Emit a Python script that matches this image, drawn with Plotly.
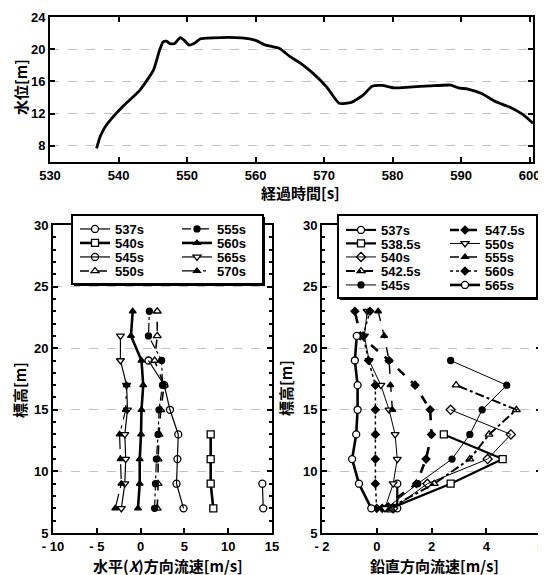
import plotly.graph_objects as go

# page is 546x575; the html body adds an 8px margin, so the figure is offset
PAGE_W, PAGE_H = 546, 575
OFF = 8
W, H = PAGE_W - OFF, PAGE_H - OFF

# ---------------- data: water level ----------------
time_s = [536.8, 537.3, 538.0, 538.8, 540.7, 543.1, 545.1, 546.0, 546.5, 547.0, 547.5, 548.2,
          549.0, 549.6, 550.3, 551.0, 552.0, 555.0, 558.0, 560.0, 561.5, 563.5, 565.0, 566.5,
          568.4, 570.4, 572.2, 574.0, 575.7, 577.0, 578.5, 580.2, 582.5, 585.5, 588.5, 589.6,
          591.0, 593.0, 595.0, 597.0, 599.0, 600.5]
level_m = [7.7, 9.1, 10.3, 11.2, 12.95, 14.9, 17.4, 19.9, 20.9, 21.0, 20.7, 20.7,
           21.45, 21.1, 20.5, 20.7, 21.3, 21.45, 21.4, 21.1, 20.5, 20.1, 19.1, 18.3,
           17.0, 15.3, 13.3, 13.4, 14.3, 15.4, 15.5, 15.2, 15.3, 15.45, 15.55, 15.2,
           15.05, 14.5, 13.5, 12.85, 11.9, 10.8]

# ---------------- data: horizontal (X) velocity ----------------
hx_537s_h = [7, 9]
hx_537s_v = [14.0, 13.9]
hx_540s_h = [7, 9, 11, 13]
hx_540s_v = [8.3, 8.0, 8.0, 8.0]
hx_545s_h = [7, 9, 11, 13, 15, 17, 19]
hx_545s_v = [4.9, 4.1, 4.2, 4.3, 3.35, 2.7, 0.9]
hx_550s_h = [7, 9, 11, 13, 15, 17, 19, 21, 23]
hx_550s_v = [1.9, 2.0, 2.0, 2.1, 2.3, 2.7, 1.6, 1.9, 1.9]
hx_555s_h = [7, 9, 11, 13, 15, 17, 19, 21, 23]
hx_555s_v = [1.6, 1.7, 1.8, 2.0, 2.1, 2.5, 2.4, 0.9, 1.0]
hx_560s_h = [7, 9, 11, 13, 15, 17, 19, 21, 23]
hx_560s_v = [-0.3, -0.1, -0.1, 0.05, 0.1, 0.3, 0.1, -1.1, -0.9]
hx_565s_h = [7, 9, 11, 13, 15, 17, 19, 21]
hx_565s_v = [-2.2, -1.8, -1.7, -1.8, -1.5, -1.6, -2.3, -2.3]
hx_570s_h = [7, 9, 11, 13, 15, 17]
hx_570s_v = [-2.9, -2.2, -2.3, -2.4, -1.7, -1.6]

# ---------------- data: vertical velocity ----------------
vz_537s_h = [7, 9]
vz_537s_v = [0.75, 0.75]
vz_538_5s_h = [7, 9, 11, 13]
vz_538_5s_v = [0.5, 2.7, 4.6, 2.45]
vz_540s_h = [7, 9, 11, 13, 15]
vz_540s_v = [0.6, 1.85, 4.05, 4.9, 2.7]
vz_542_5s_h = [7, 9, 11, 13, 15, 17]
vz_542_5s_v = [0.45, 2.1, 3.4, 4.1, 5.1, 2.9]
vz_545s_h = [7, 9, 11, 13, 15, 17, 19]
vz_545s_v = [0.35, 1.5, 2.75, 3.4, 3.85, 4.75, 2.7]
vz_547_5s_h = [7, 9, 11, 13, 15, 17, 19, 21, 23]
vz_547_5s_v = [0.2, 1.45, 1.8, 2.0, 1.95, 1.4, 0.45, -0.6, -0.8]
vz_550s_h = [7, 9, 11, 13, 15, 17, 19, 21, 23]
vz_550s_v = [0.3, 0.6, 0.75, 0.67, 0.45, 0.15, -0.28, -0.45, -0.35]
vz_555s_h = [15, 17, 19, 21, 23]
vz_555s_v = [0.57, 0.5, 0.45, 0.27, 0.05]
vz_560s_h = [7, 9, 11, 13, 15, 17, 19, 21, 23]
vz_560s_v = [0.0, -0.05, -0.05, -0.05, -0.05, -0.05, -0.3, -0.5, -0.25]
vz_565s_h = [7, 9, 11, 13, 15, 17, 19, 21]
vz_565s_v = [-0.2, -0.65, -0.9, -0.75, -0.7, -0.7, -0.8, -0.73]

# tick labels
top_x_ticks = [530, 540, 550, 560, 570, 580, 590, 600]
top_y_ticks = [8, 12, 16, 20, 24]
hx_ticks = [-10, -5, 0, 5, 10, 15]
hx_ticktext = ["- 10", "- 5", "0", "5", "10", "15"]
vz_ticks = [-2, 0, 2, 4, 6]
vz_ticktext = ["- 2", "0", "2", "4", "6"]
elev_ticks = [5, 10, 15, 20, 25, 30]


# ---------------- helpers (page pixels -> paper) ----------------
def fx(p):
    return (p - OFF) / W


def fy(p):
    return 1 - (p - OFF) / H


LAT = "Liberation Sans, Arial, sans-serif"
CJK = "Noto Sans CJK JP, sans-serif"

fig = go.Figure()

fig.add_trace(go.Scatter(x=time_s, y=level_m, mode="lines",
                         line=dict(color="black", width=2.8, shape="spline", smoothing=0.5),
                         showlegend=False, xaxis="x", yaxis="y"))

WHITE = "white"


def mk(symbol, fill, size=7):
    return dict(symbol=symbol, size=size, color=fill, line=dict(color="black", width=1.3))


left_series = [
    ("537s", hx_537s_v, hx_537s_h, dict(width=1.2, dash="solid"), mk("circle", WHITE), (75, 229)),
    ("540s", hx_540s_v, hx_540s_h, dict(width=2.6, dash="solid"), mk("square", WHITE), (75, 243)),
    ("545s", hx_545s_v, hx_545s_h, dict(width=1.2, dash="solid"), mk("circle-open", "black"), (75, 257)),
    ("550s", hx_550s_v, hx_550s_h, dict(width=1.6, dash="dash"), mk("triangle-up", WHITE), (75, 271)),
    ("555s", hx_555s_v, hx_555s_h, dict(width=1.2, dash="dashdot"), mk("circle", "black", 6), (177, 229)),
    ("560s", hx_560s_v, hx_560s_h, dict(width=2.6, dash="solid"), mk("triangle-up", "black", 6), (177, 243)),
    ("565s", hx_565s_v, hx_565s_h, dict(width=1.2, dash="solid"), mk("triangle-down", WHITE), (177, 257)),
    ("570s", hx_570s_v, hx_570s_h, dict(width=1.2, dash="longdashdot"), mk("triangle-up", "black", 6), (177, 271)),
]

right_series = [
    ("537s", vz_537s_v, vz_537s_h, dict(width=2.2, dash="solid"), mk("circle", WHITE), (341, 230)),
    ("538.5s", vz_538_5s_v, vz_538_5s_h, dict(width=2.2, dash="solid"), mk("square", WHITE), (341, 243.5)),
    ("540s", vz_540s_v, vz_540s_h, dict(width=1.0, dash="solid"), mk("diamond-open", "black"), (341, 257)),
    ("542.5s", vz_542_5s_v, vz_542_5s_h, dict(width=2.0, dash="dashdot"), mk("triangle-up-open", "black"), (341, 271)),
    ("545s", vz_545s_v, vz_545s_h, dict(width=1.0, dash="solid"), mk("circle", "black", 6), (341, 285)),
    ("547.5s", vz_547_5s_v, vz_547_5s_h, dict(width=2.6, dash="dash"), mk("diamond", "black", 6), (445, 230)),
    ("550s", vz_550s_v, vz_550s_h, dict(width=1.0, dash="solid"), mk("triangle-down", WHITE), (445, 243.5)),
    ("555s", vz_555s_v, vz_555s_h, dict(width=1.4, dash="dash"), mk("triangle-up", "black", 6), (445, 257)),
    ("560s", vz_560s_v, vz_560s_h, dict(width=1.5, dash="dot"), mk("diamond", "black", 6), (445, 271)),
    ("565s", vz_565s_v, vz_565s_h, dict(width=2.6, dash="solid"), mk("circle", WHITE), (445, 285)),
]

legend_layouts = {}
n = 0
for series, xa, ya in ((left_series, "x2", "y2"), (right_series, "x3", "y3")):
    for name, vals, hts, lstyle, mstyle, pos in series:
        n += 1
        lname = "legend" if n == 1 else f"legend{n}"
        fig.add_trace(go.Scatter(x=vals, y=hts, mode="lines+markers", name=name,
                                 line=dict(color="black", **lstyle), marker=mstyle,
                                 xaxis=xa, yaxis=ya, legend=lname, showlegend=True))
        legend_layouts[lname] = dict(
            x=fx(pos[0]), y=fy(pos[1]), xanchor="left", yanchor="middle",
            xref="paper", yref="paper", bgcolor="rgba(0,0,0,0)", borderwidth=0,
            font=dict(family=LAT, size=13, color="black", weight="bold"),
            itemwidth=30)

axis_common = dict(showline=True, linecolor="black", linewidth=2, mirror="ticks",
                   ticks="inside", ticklen=5, tickwidth=1.5, tickcolor="black",
                   tickfont=dict(family=LAT, size=13, color="black", weight="bold"),
                   zeroline=False, automargin=False)
grid_on = dict(showgrid=True, gridcolor="#c4c4c4", gridwidth=1, griddash="dash")
minor_y = dict(ticks="inside", ticklen=3, tickvals=list(range(5, 31)), tickcolor="black")

fig.update_layout(
    width=W, height=H, margin=dict(l=0, r=0, t=0, b=0),
    paper_bgcolor="white", plot_bgcolor="white",
    xaxis=dict(domain=[fx(50), fx(533)], anchor="y", range=[530, 600.5],
               tickvals=top_x_ticks, showgrid=False, **axis_common),
    yaxis=dict(domain=[fy(162), fy(17)], anchor="x", range=[6, 24],
               tickvals=top_y_ticks, **axis_common, **grid_on),
    xaxis2=dict(domain=[fx(53), fx(272)], anchor="y2", range=[-10, 15],
                tickvals=hx_ticks, ticktext=hx_ticktext, showgrid=False, **axis_common),
    yaxis2=dict(domain=[fy(533), fy(225)], anchor="x2", range=[5, 30],
                tickvals=elev_ticks, minor=minor_y, **axis_common, **grid_on),
    xaxis3=dict(domain=[fx(322), fx(541)], anchor="y3", range=[-2, 6],
                tickvals=vz_ticks, ticktext=vz_ticktext, showgrid=False, **axis_common),
    yaxis3=dict(domain=[fy(533), fy(225)], anchor="x3", range=[5, 30],
                tickvals=elev_ticks, minor=minor_y, **axis_common, **grid_on),
    **legend_layouts,
)

# legend boxes (shadow + white box)
for (x0, y0, x1, y1) in [(72, 215, 263, 284), (338, 215, 537, 298)]:
    fig.add_shape(type="rect", xref="paper", yref="paper",
                  x0=fx(x0 + 2), x1=fx(x1 + 2), y0=fy(y1 + 2), y1=fy(y0 + 2),
                  fillcolor="black", line=dict(color="black", width=0), layer="above")
    fig.add_shape(type="rect", xref="paper", yref="paper",
                  x0=fx(x0), x1=fx(x1), y0=fy(y1), y1=fy(y0),
                  fillcolor="white", line=dict(color="black", width=2), layer="above")

title_font = dict(family=CJK, size=15, color="black", weight="bold")
titles = [
    ("水位[m]", 20, 87, -90),
    ("経過時間[s]", 300, 193, 0),
    ("標高[m]", 19, 390, -90),
    ("標高[m]", 285, 388, -90),
    ("水平(<i>X</i>)方向流速[m/s]", 168, 565, 0),
    ("鉛直方向流速[m/s]", 434, 565, 0),
]
for text, x, y, ang in titles:
    fig.add_annotation(text=text, x=fx(x), y=fy(y), xref="paper", yref="paper",
                       showarrow=False, textangle=ang, font=title_font,
                       xanchor="center", yanchor="middle", borderpad=0)

fig.write_html("out.html")
